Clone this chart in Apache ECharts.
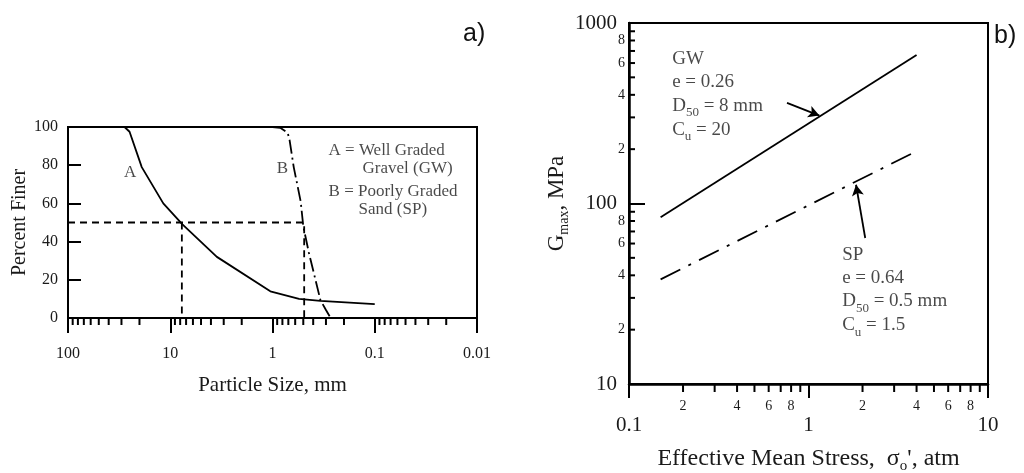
<!DOCTYPE html>
<html><head><meta charset="utf-8">
<script src="https://cdn.jsdelivr.net/npm/echarts@6/dist/echarts.min.js"></script>
<style>html,body{margin:0;padding:0;background:#fff}#c{width:1024px;height:473px}</style>
</head><body><div id="c"></div>
<script>
// ---------- Panel a: gradation curves (particle size in mm, percent finer) ----------
const curveA = [[28,100],[25,97.5],[19,79],[11.7,60],[7.6,49],[3.5,32],[1.05,14],[0.55,10],[0.34,9],[0.1,7.3]];
const curveB = [[1.0,100],[0.84,99.6],[0.76,98],[0.71,96.9],[0.68,93],[0.62,79],[0.53,61],[0.5,48],[0.44,34],[0.38,20],[0.34,9.4],[0.3,4.2],[0.27,0]];
const d50Guide = [[100,50],[0.49,50],[0.49,0]];
const d50GuideGW = [[7.7,50],[7.7,0]];
const sizeMinorTicks = [0.02,0.03,0.04,0.05,0.06,0.07,0.08,0.09,0.2,0.3,0.4,0.5,0.6,0.7,0.8,0.9,2,3,4,5,6,7,8,9,20,30,40,50,60,70,80,90];

// ---------- Panel b: Gmax vs effective mean stress ----------
const gmaxGW = [[0.15,84],[4,665]];
const gmaxSP = [[0.15,38],[4,195]];
const stressMinorTicks = [0.2,0.3,0.4,0.5,0.6,0.7,0.8,0.9,2,3,4,5,6,7,8,9];
const stressMinorLabels = ['2','','4','','6','','8','','2','','4','','6','','8',''];
const gmaxMinorTicks = [20,30,40,50,60,70,80,90,200,300,400,500,600,700,800,900];
const gmaxMinorLabels = ['2','','4','','6','','8','','2','','4','','6','','8',''];

const SERIF = '"Liberation Serif", "Times New Roman", serif';
const SANS = '"Liberation Sans", Arial, sans-serif';
const INK = '#1a1a1a';
const fmt = v => String(parseFloat(Number(v).toPrecision(6)));

function tickSeries(xi, yi, values, base, orient, len, labels, labelOff) {
  return {
    type: 'custom', xAxisIndex: xi, yAxisIndex: yi, silent: true, clip: false, z: 5,
    data: values.map(v => orient === 'x' ? [v, base] : [base, v]),
    renderItem: function (params, api) {
      const p = api.coord([api.value(0), api.value(1)]);
      const kids = [];
      if (orient === 'x') {
        kids.push({type: 'line', shape: {x1: p[0], y1: p[1], x2: p[0], y2: p[1] + len}, style: {stroke: '#000', lineWidth: 2}});
        if (labels && labels[params.dataIndex]) kids.push({type: 'text', style: {text: labels[params.dataIndex], x: p[0], y: p[1] + labelOff, align: 'center', verticalAlign: 'top', fill: INK, font: '14px ' + SERIF}});
      } else {
        kids.push({type: 'line', shape: {x1: p[0], y1: p[1], x2: p[0] + len, y2: p[1]}, style: {stroke: '#000', lineWidth: 2}});
        if (labels && labels[params.dataIndex]) kids.push({type: 'text', style: {text: labels[params.dataIndex], x: p[0] - labelOff, y: p[1], align: 'right', verticalAlign: 'middle', fill: INK, font: '14px ' + SERIF}});
      }
      return {type: 'group', children: kids};
    }
  };
}

function textPoint(xi, yi, pt, text, align, rich, lh, size) {
  return {
    type: 'scatter', xAxisIndex: xi, yAxisIndex: yi, symbolSize: 0, silent: true, z: 6,
    data: [pt],
    label: {show: true, position: [0, 0], align: align, verticalAlign: 'middle', formatter: text,
      fontFamily: SERIF, fontSize: size, color: INK, lineHeight: lh, rich: rich || {}}
  };
}

const subRich = {
  t: {fontFamily: SERIF, fontSize: 19, color: INK, lineHeight: 24},
  sub: {fontFamily: SERIF, fontSize: 13, color: INK, lineHeight: 10, padding: [14, 0, 0, 0]}
};

const chart = echarts.init(document.getElementById('c'), null, {renderer: 'canvas'});
chart.setOption({
  animation: false,
  backgroundColor: '#fff',
  grid: [
    {left: 68, top: 127, width: 409, height: 191, show: true, borderColor: '#000', borderWidth: 2, backgroundColor: 'transparent', containLabel: false, outerBoundsMode: 'none'},
    {left: 629, top: 23, width: 359, height: 361, show: true, borderColor: '#000', borderWidth: 2, backgroundColor: 'transparent', containLabel: false, outerBoundsMode: 'none'}
  ],
  xAxis: [
    {type: 'log', gridIndex: 0, logBase: 10, min: 0.01, max: 100, inverse: true,
      axisLine: {show: true, lineStyle: {color: '#000', width: 2}},
      axisTick: {show: true, inside: false, length: 15, lineStyle: {color: '#000', width: 2}},
      axisLabel: {margin: 28, fontFamily: SERIF, fontSize: 16, color: INK, formatter: fmt},
      splitLine: {show: false}, minorTick: {show: false},
      name: 'Particle Size, mm', nameLocation: 'middle', nameGap: 57,
      nameTextStyle: {fontFamily: SERIF, fontSize: 21, color: INK}},
    {type: 'log', gridIndex: 1, logBase: 10, min: 0.1, max: 10,
      axisLine: {show: true, lineStyle: {color: '#000', width: 2.5}},
      axisTick: {show: true, inside: false, length: 14, lineStyle: {color: '#000', width: 2}},
      axisLabel: {margin: 31, fontFamily: SERIF, fontSize: 21, color: INK, formatter: fmt},
      splitLine: {show: false},
      name: 'Effective Mean Stress,  σ{sub|o}\', atm', nameLocation: 'middle', nameGap: 63,
      nameTextStyle: {fontFamily: SERIF, fontSize: 24, color: INK,
        rich: {sub: {fontFamily: SERIF, fontSize: 15, color: INK, lineHeight: 10, padding: [15, 0, 0, 0]}}}}
  ],
  yAxis: [
    {type: 'value', gridIndex: 0, min: 0, max: 100, interval: 20,
      axisLine: {show: true, lineStyle: {color: '#000', width: 2}},
      axisTick: {show: true, inside: true, length: 13, lineStyle: {color: '#000', width: 2}},
      axisLabel: {margin: 10, fontFamily: SERIF, fontSize: 16, color: INK},
      splitLine: {show: false},
      name: 'Percent Finer', nameLocation: 'middle', nameGap: 38,
      nameTextStyle: {fontFamily: SERIF, fontSize: 20, color: INK}},
    {type: 'log', gridIndex: 1, logBase: 10, min: 10, max: 1000,
      axisLine: {show: true, lineStyle: {color: '#000', width: 2.5}},
      axisTick: {show: true, inside: true, length: 16, lineStyle: {color: '#000', width: 2}},
      axisLabel: {margin: 12, fontFamily: SERIF, fontSize: 21, color: INK, formatter: fmt},
      splitLine: {show: false},
      name: 'G{sub|max}, MPa', nameLocation: 'middle', nameGap: 56,
      nameTextStyle: {fontFamily: SERIF, fontSize: 23, color: INK,
        rich: {sub: {fontFamily: SERIF, fontSize: 14, color: INK, lineHeight: 10, padding: [14, 0, 0, 0]}}}}
  ],
  graphic: [
    {type: 'text', left: 463, top: 22, style: {text: 'a)', font: '25px ' + SANS, fill: '#111'}},
    {type: 'text', left: 994, top: 24, style: {text: 'b)', font: '25px ' + SANS, fill: '#111'}}
  ],
  series: [
    {type: 'line', xAxisIndex: 0, yAxisIndex: 0, data: curveA, symbol: 'none', z: 3,
      lineStyle: {color: '#000', width: 1.8}},
    {type: 'line', xAxisIndex: 0, yAxisIndex: 0, data: curveB, symbol: 'none', z: 3,
      lineStyle: {color: '#000', width: 1.8, type: [14, 4, 2, 4]}},
    {type: 'line', xAxisIndex: 0, yAxisIndex: 0, data: d50Guide, symbol: 'none', z: 2,
      lineStyle: {color: '#000', width: 1.8, type: [7, 5]}},
    {type: 'line', xAxisIndex: 0, yAxisIndex: 0, data: d50GuideGW, symbol: 'none', z: 2,
      lineStyle: {color: '#000', width: 1.8, type: [7, 5]}},
    tickSeries(0, 0, sizeMinorTicks, 0, 'x', 7, null, 0),
    textPoint(0, 0, [24.7, 76.4], 'A', 'center', null, 18, 17),
    textPoint(0, 0, [0.80, 78.5], 'B', 'center', null, 18, 17),
    textPoint(0, 0, [0.283, 83.2], 'A = Well Graded\n{ind|Gravel (GW)}', 'left',
      {ind: {fontFamily: SERIF, fontSize: 17, color: INK, lineHeight: 18, padding: [0, 0, 0, 34]}}, 18, 17),
    textPoint(0, 0, [0.283, 61.3], 'B = Poorly Graded\n{ind|Sand (SP)}', 'left',
      {ind: {fontFamily: SERIF, fontSize: 17, color: INK, lineHeight: 18, padding: [0, 0, 0, 30]}}, 18, 17),

    {type: 'line', xAxisIndex: 1, yAxisIndex: 1, data: gmaxGW, symbol: 'none', z: 3,
      lineStyle: {color: '#000', width: 1.8},
      markLine: {silent: true, symbol: ['none', 'arrow'], symbolSize: [9, 11], label: {show: false},
        lineStyle: {color: '#000', width: 1.8, type: 'solid'},
        data: [[{coord: [0.759, 361]}, {coord: [1.15, 307]}]]}},
    {type: 'line', xAxisIndex: 1, yAxisIndex: 1, data: gmaxSP, symbol: 'none', z: 3,
      lineStyle: {color: '#000', width: 1.8, type: [22, 9, 3, 9]},
      markLine: {silent: true, symbol: ['none', 'arrow'], symbolSize: [9, 11], label: {show: false},
        lineStyle: {color: '#000', width: 1.8, type: 'solid'},
        data: [[{coord: [2.07, 64.4]}, {coord: [1.84, 127]}]]}},
    tickSeries(1, 1, stressMinorTicks, 10, 'x', 8, stressMinorLabels, 15),
    tickSeries(1, 1, gmaxMinorTicks, 0.1, 'y', 6, gmaxMinorLabels, 4),
    textPoint(1, 1, [0.174, 400], 'GW\ne = 0.26\n{t|D}{sub|50}{t| = 8 mm}\n{t|C}{sub|u}{t| = 20}', 'left', subRich, 23, 19),
    textPoint(1, 1, [1.54, 33], 'SP\ne = 0.64\n{t|D}{sub|50}{t| = 0.5 mm}\n{t|C}{sub|u}{t| = 1.5}', 'left', subRich, 23, 19)
  ]
});
</script>
</body></html>
